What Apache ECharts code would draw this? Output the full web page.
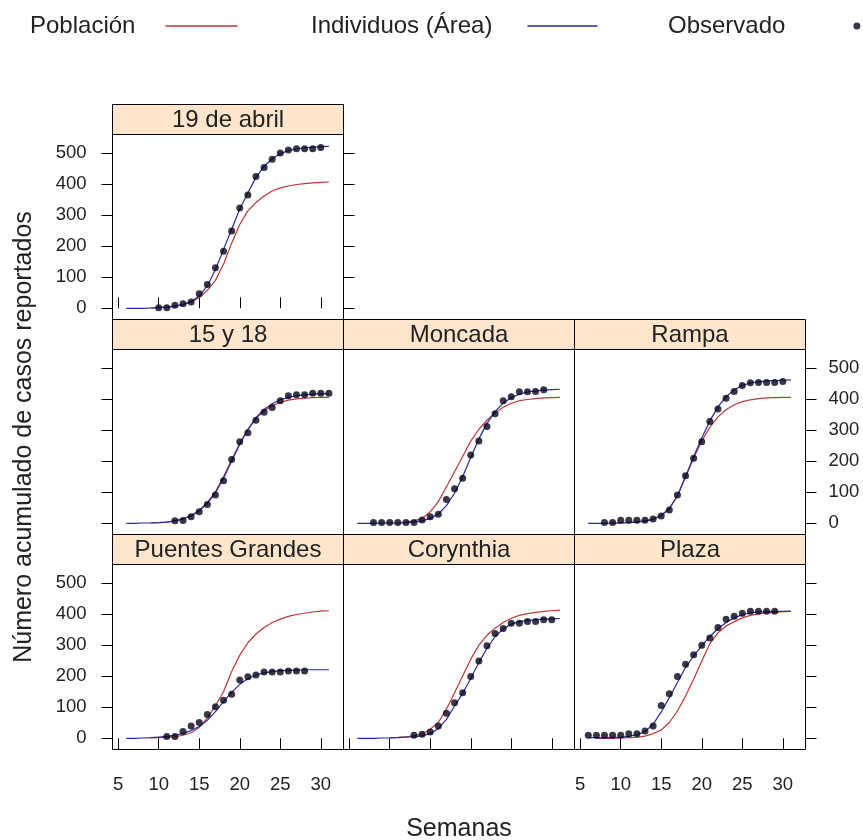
<!DOCTYPE html>
<html><head><meta charset="utf-8">
<script src="https://cdn.jsdelivr.net/npm/echarts@6/dist/echarts.min.js"></script>
<style>html,body{margin:0;padding:0;background:#fff}#c{width:863px;height:840px}</style>
</head><body><div id="c"></div>
<script>
// ---------- data ----------
const weeks = [6,7,8,9,10,11,12,13,14,15,16,17,18,19,20,21,22,23,24,25,26,27,28,29,30,31];
const panelNames = ['19 de abril','15 y 18','Moncada','Rampa','Puentes Grandes','Corynthia','Plaza'];
const xTicks = [5,10,15,20,25,30];
const yTicks = [0,100,200,300,400,500];
const seriesNames = ['Población','Individuos (Área)','Observado'];

const abrilPoblacion  = [null,null,null,1,2,4,7,12,20,35,58,90,142,210,270,314,341,362,378,388,394,399,402,404,406,407];
const abrilIndividuos = [0,0,0,1,2,4,7,12,22,40,72,125,190,255,320,372,422,457,482,498,508,514,517,519,521,522];
const abrilObservado  = [null,null,null,null,2,2,10,15,20,47,77,131,184,249,323,365,425,454,480,500,510,514,514,514,518,null];

const quincePoblacion  = [null,null,null,1,2,4,8,14,25,42,67,102,150,205,258,303,338,362,379,390,397,401,403,405,406,406];
const quinceIndividuos = [0,0,1,1,2,4,8,14,24,40,64,98,145,200,255,302,340,367,385,398,406,411,414,416,417,418];
const quinceObservado  = [null,null,null,null,null,null,8,9,21,37,61,91,137,206,263,292,332,358,373,395,411,414,414,419,419,419];

const moncadaPoblacion  = [null,null,null,null,null,null,5,8,16,37,70,118,166,215,265,303,332,355,374,387,395,399,402,404,405,406];
const moncadaIndividuos = [0,0,0,1,1,1,2,4,8,16,30,57,97,150,212,272,322,360,387,405,416,423,427,429,431,432];
const moncadaObservado  = [null,null,3,3,3,3,3,3,11,21,29,77,111,145,220,265,312,353,395,408,424,424,425,430,null,null];

const rampaPoblacion  = [null,null,null,1,2,3,5,8,14,25,47,90,150,210,265,310,343,366,382,392,398,402,404,405,406,406];
const rampaIndividuos = [0,0,0,1,1,2,4,7,13,25,48,88,150,215,275,330,375,408,430,444,452,456,459,460,461,462];
const rampaObservado  = [null,null,3,3,10,10,10,10,14,24,43,91,153,210,263,328,368,403,425,444,453,454,454,454,457,null];

const puentesPoblacion  = [null,null,null,1,2,3,5,10,18,35,65,105,150,215,268,308,336,357,373,384,393,399,403,407,410,411];
const puentesIndividuos = [0,0,1,2,4,6,10,16,25,38,58,86,118,148,174,192,204,211,215,218,219,220,221,221,221,221];
const puentesObservado  = [null,null,null,null,null,6,6,22,40,51,77,102,123,142,188,198,204,214,214,214,217,217,217,null,null,null];

const corynthiaPoblacion  = [null,null,null,null,2,3,5,8,14,29,51,94,147,201,255,300,332,355,373,387,396,402,406,409,411,413];
const corynthiaIndividuos = [0,0,0,1,1,2,4,5,8,16,31,61,104,145,193,244,290,328,352,368,376,380,382,384,385,386];
const corynthiaObservado  = [null,null,null,null,null,null,null,10,13,20,40,81,115,147,199,249,298,338,354,371,371,376,376,382,382,null];

const plazaPoblacion  = [null,0,0,0,1,2,3,7,15,27,51,88,136,190,249,305,340,362,376,388,396,401,404,406,408,409];
const plazaIndividuos = [2,2,2,3,4,6,11,22,45,85,131,180,228,266,298,328,353,373,388,398,404,407,408,409,409,409];
const plazaObservado  = [10,10,10,10,10,15,15,24,40,106,144,199,239,269,300,323,357,384,393,403,409,409,409,409,null,null];

const panelSeries = [
  [abrilPoblacion, abrilIndividuos, abrilObservado],
  [quincePoblacion, quinceIndividuos, quinceObservado],
  [moncadaPoblacion, moncadaIndividuos, moncadaObservado],
  [rampaPoblacion, rampaIndividuos, rampaObservado],
  [puentesPoblacion, puentesIndividuos, puentesObservado],
  [corynthiaPoblacion, corynthiaIndividuos, corynthiaObservado],
  [plazaPoblacion, plazaIndividuos, plazaObservado]
];

// ---------- layout / style ----------
const FONT = '"Liberation Sans", Arial, sans-serif';
const TXT = '#222';
const RED = '#C23636';
const BLUE = '#2A2AA3';
const PT = '#05051a';
const colLeft = [112.5, 343.5, 574.5];
const panelW = 231;
const stripH = 30;
const plotH = 185;
const rowTop = [104.5, 319.5, 534.5];
const cells = [[0,0],[1,0],[1,1],[1,2],[2,0],[2,1],[2,2]];
const X_MIN = 4.3, X_MAX = 32.8, Y_MIN = -36, Y_MAX = 560;
const axisSpec = [
  {x:'top', xl:false, y:[['left',true],['right',false]]},
  {x:null, xl:false, y:[['left',false]]},
  {x:null, xl:false, y:[]},
  {x:null, xl:false, y:[['right',true]]},
  {x:'bottom', xl:true, y:[['left',true]]},
  {x:'bottom', xl:false, y:[]},
  {x:'bottom', xl:true, y:[['right',false]]}
];

const grids = [], xAxes = [], yAxes = [], series = [], graphics = [];
const tickStyle = {show:true, length:11, inside:false, lineStyle:{color:'#000', width:1}};
const lblStyle = {color:TXT, fontSize:18.5, fontFamily:FONT};

cells.forEach(([r,c], i) => {
  const left = colLeft[c], top = rowTop[r] + stripH;
  grids.push({left:left, top:top, width:panelW, height:plotH, show:true, borderColor:'#000', borderWidth:1, backgroundColor:'#fff', containLabel:false});
  const sp = axisSpec[i];
  xAxes.push({
    type:'value', gridIndex:i, min:X_MIN, max:X_MAX,
    position: sp.x === 'top' ? 'top' : 'bottom',
    offset: sp.x === 'top' ? stripH : 0,
    axisLine:{show:false}, splitLine:{show:false},
    axisTick: sp.x ? Object.assign({customValues:xTicks}, tickStyle) : {show:false},
    axisLabel: sp.xl ? Object.assign({show:true, customValues:xTicks, margin:26}, lblStyle) : {show:false}
  });
  const yIdx = yAxes.length;
  const ys = sp.y.length ? sp.y : [['left', null]];
  ys.forEach(([pos, lab]) => {
    yAxes.push({
      type:'value', gridIndex:i, min:Y_MIN, max:Y_MAX, position:pos,
      axisLine:{show:false}, splitLine:{show:false},
      axisTick: lab === null ? {show:false} : Object.assign({customValues:yTicks}, tickStyle),
      axisLabel: lab ? Object.assign({show:true, customValues:yTicks, margin: pos==='left' ? 26 : 23, align: pos==='left' ? 'right' : 'left'}, lblStyle) : {show:false}
    });
  });
  const [pob, ind, obs] = panelSeries[i];
  const toPairs = arr => weeks.map((w,k) => [w, arr[k]]).filter(p => p[1] !== null);
  series.push({name:seriesNames[0], type:'line', xAxisIndex:i, yAxisIndex:yIdx, data:toPairs(pob), symbol:'none', lineStyle:{color:RED, width:1.2}, itemStyle:{color:RED}, z:3, silent:true});
  series.push({name:seriesNames[1], type:'line', xAxisIndex:i, yAxisIndex:yIdx, data:toPairs(ind), symbol:'none', lineStyle:{color:BLUE, width:1.2}, itemStyle:{color:BLUE}, z:4, silent:true});
  series.push({name:seriesNames[2], type:'scatter', xAxisIndex:i, yAxisIndex:yIdx, data:toPairs(obs), symbol:'circle', symbolSize:7, itemStyle:{color:PT}, z:5, silent:true});
  graphics.push({type:'rect', shape:{x:left, y:rowTop[r], width:panelW, height:stripH}, style:{fill:'#FFE5CC', stroke:'#000', lineWidth:1}, z:10});
  graphics.push({type:'text', x:left + panelW/2, y:rowTop[r] + stripH/2 + 1, style:{text:panelNames[i], align:'center', verticalAlign:'middle', fontSize:24, fontFamily:FONT, fill:TXT}, z:11});
});

graphics.push({type:'text', x:459, y:829, style:{text:'Semanas', align:'center', verticalAlign:'middle', fontSize:25, fontFamily:FONT, fill:TXT}});
graphics.push({type:'text', x:24, y:437, rotation:Math.PI/2, style:{text:'Número acumulado de casos reportados', align:'center', verticalAlign:'middle', fontSize:25, fontFamily:FONT, fill:TXT}});

const legendBase = {orient:'horizontal', top:14, padding:0, align:'right', selectedMode:false, itemHeight:14};
const option = {
  animation:false,
  backgroundColor:'#fff',
  legend:[
    Object.assign({}, legendBase, {data:[seriesNames[0]], left:30, itemWidth:72, itemStyle:{opacity:0}, lineStyle:{width:1.5}, textStyle:{fontSize:24, fontFamily:FONT, color:TXT, padding:[0,25,0,0]}}),
    Object.assign({}, legendBase, {data:[seriesNames[1]], left:311, itemWidth:70, itemStyle:{opacity:0}, lineStyle:{width:1.5}, textStyle:{fontSize:24, fontFamily:FONT, color:TXT, padding:[0,30,0,0]}}),
    Object.assign({}, legendBase, {data:[seriesNames[2]], left:668, itemWidth:7, itemHeight:7, textStyle:{fontSize:24, fontFamily:FONT, color:TXT, padding:[0,63,0,0]}})
  ],
  grid:grids, xAxis:xAxes, yAxis:yAxes, series:series, graphic:graphics
};
const chart = echarts.init(document.getElementById('c'), null, {renderer:'canvas'});
chart.setOption(option);
</script></body></html>
